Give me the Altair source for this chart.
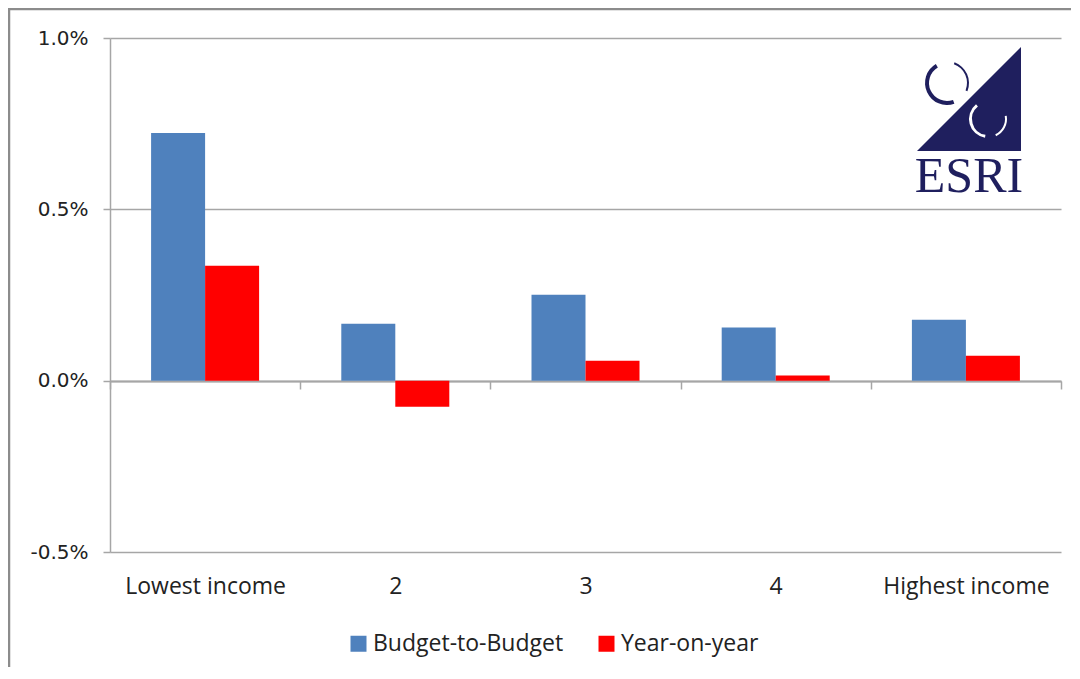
import altair as alt
import pandas as pd

categories = ["Lowest income", "2", "3", "4", "Highest income"]
series = ["Budget-to-Budget", "Year-on-year"]
budget_to_budget = [0.00723, 0.00166, 0.00251, 0.00155, 0.00178]
year_on_year = [0.00335, -0.00076, 0.00058, 0.00015, 0.00073]
y_ticks = [-0.005, 0.0, 0.005, 0.01]
colors = ["#4F81BD", "#FF0000"]
navy = "#1f1f5e"
grid_gray = "#a6a6a6"

rows = []
for i, c in enumerate(categories):
    rows.append({"category": c, "series": series[0], "value": budget_to_budget[i]})
    rows.append({"category": c, "series": series[1], "value": year_on_year[i]})
df = pd.DataFrame(rows)

W, H = 951, 514
PL, PT, PR, PB = 102, 30, 10, 115

bars = alt.Chart(df).mark_bar().encode(
    x=alt.X("category:N", sort=categories,
            scale=alt.Scale(paddingInner=0, paddingOuter=0),
            axis=alt.Axis(title=None, labelAngle=0, offset=-171, tickBand="extent",
                          tickSize=8, tickColor=grid_gray, tickWidth=1.5,
                          domainColor=grid_gray, domainWidth=2,
                          labelPadding=186, labelFont="Open Sans", labelFontSize=23,
                          labelColor="#222222", grid=False)),
    xOffset=alt.XOffset("series:N", sort=series,
                        scale=alt.Scale(paddingInner=0, paddingOuter=0.761)),
    y=alt.Y("value:Q",
            scale=alt.Scale(domain=[-0.005, 0.01], nice=False, zero=False),
            axis=alt.Axis(title=None, values=y_ticks, format=".1%",
                          labelExpr="replace(datum.label, '\u2212', '-')",
                          labelFont="DejaVu Sans", labelFontSize=20, labelColor="#222222",
                          labelPadding=15, tickSize=7, tickColor=grid_gray, tickWidth=1.5,
                          domainColor=grid_gray, domainWidth=1.5,
                          gridColor=grid_gray, gridWidth=1.5)),
    color=alt.Color("series:N", sort=series,
                    scale=alt.Scale(domain=series, range=colors),
                    legend=alt.Legend(title=None, orient="none", direction="horizontal",
                                      legendX=237, legendY=594,
                                      symbolType="square", symbolSize=256,
                                      symbolStrokeWidth=0, labelFont="Open Sans",
                                      labelFontSize=23, labelColor="#222222", labelLimit=0,
                                      labelOffset=3, columnPadding=31)),
)

one = pd.DataFrame({"a": [0]})

frame_left = alt.Chart(one).mark_rule(color="#8c8c8c", strokeWidth=2.5).encode(
    x=alt.value(-101), y=alt.value(-30), y2=alt.value(H + PB))
frame_top = alt.Chart(one).mark_rule(color="#8c8c8c", strokeWidth=2.5).encode(
    y=alt.value(-29), x=alt.value(-102), x2=alt.value(W + PR))

triangle = alt.Chart(one).mark_point(
    shape="M -1 1 L 1 -1 L 1 1 Z", filled=True, color=navy, opacity=1, size=10816
).encode(x=alt.value(859), y=alt.value(61))

arc_specs = [
    # (cx, cy, r_outer, r_inner, start, end, color)
    (837, 45, 22, 18, 2.8, 5.75, navy),
    (837, 45, 22, 20, 0.35, 1.95, navy),
    (878, 81, 19, 16, 3.3, 5.6, "#ffffff"),
    (878, 81, 19, 17, 1.4, 2.7, "#ffffff"),
]
arcs = []
for cx, cy, ro, ri, t1, t2, col in arc_specs:
    arcs.append(alt.Chart(one).mark_arc(radius=ro, radius2=ri, theta=t1, theta2=t2,
                                        color=col).encode(x=alt.value(cx), y=alt.value(cy)))

esri = alt.Chart(one).mark_text(
    text="ESRI", font="Liberation Serif", fontSize=50, color=navy,
    align="center", baseline="alphabetic"
).encode(x=alt.value(859), y=alt.value(154))

chart = alt.layer(bars, frame_left, frame_top, triangle, *arcs, esri).properties(
    width=W, height=H,
    autosize=alt.AutoSizeParams(type="none"),
    padding={"left": PL, "top": PT, "right": PR, "bottom": PB},
).configure(
    background="white",
    view=alt.ViewConfig(stroke="transparent", strokeWidth=0, strokeOpacity=0),
)

chart.save("out.html", embed_options={"renderer": "svg", "actions": False})
